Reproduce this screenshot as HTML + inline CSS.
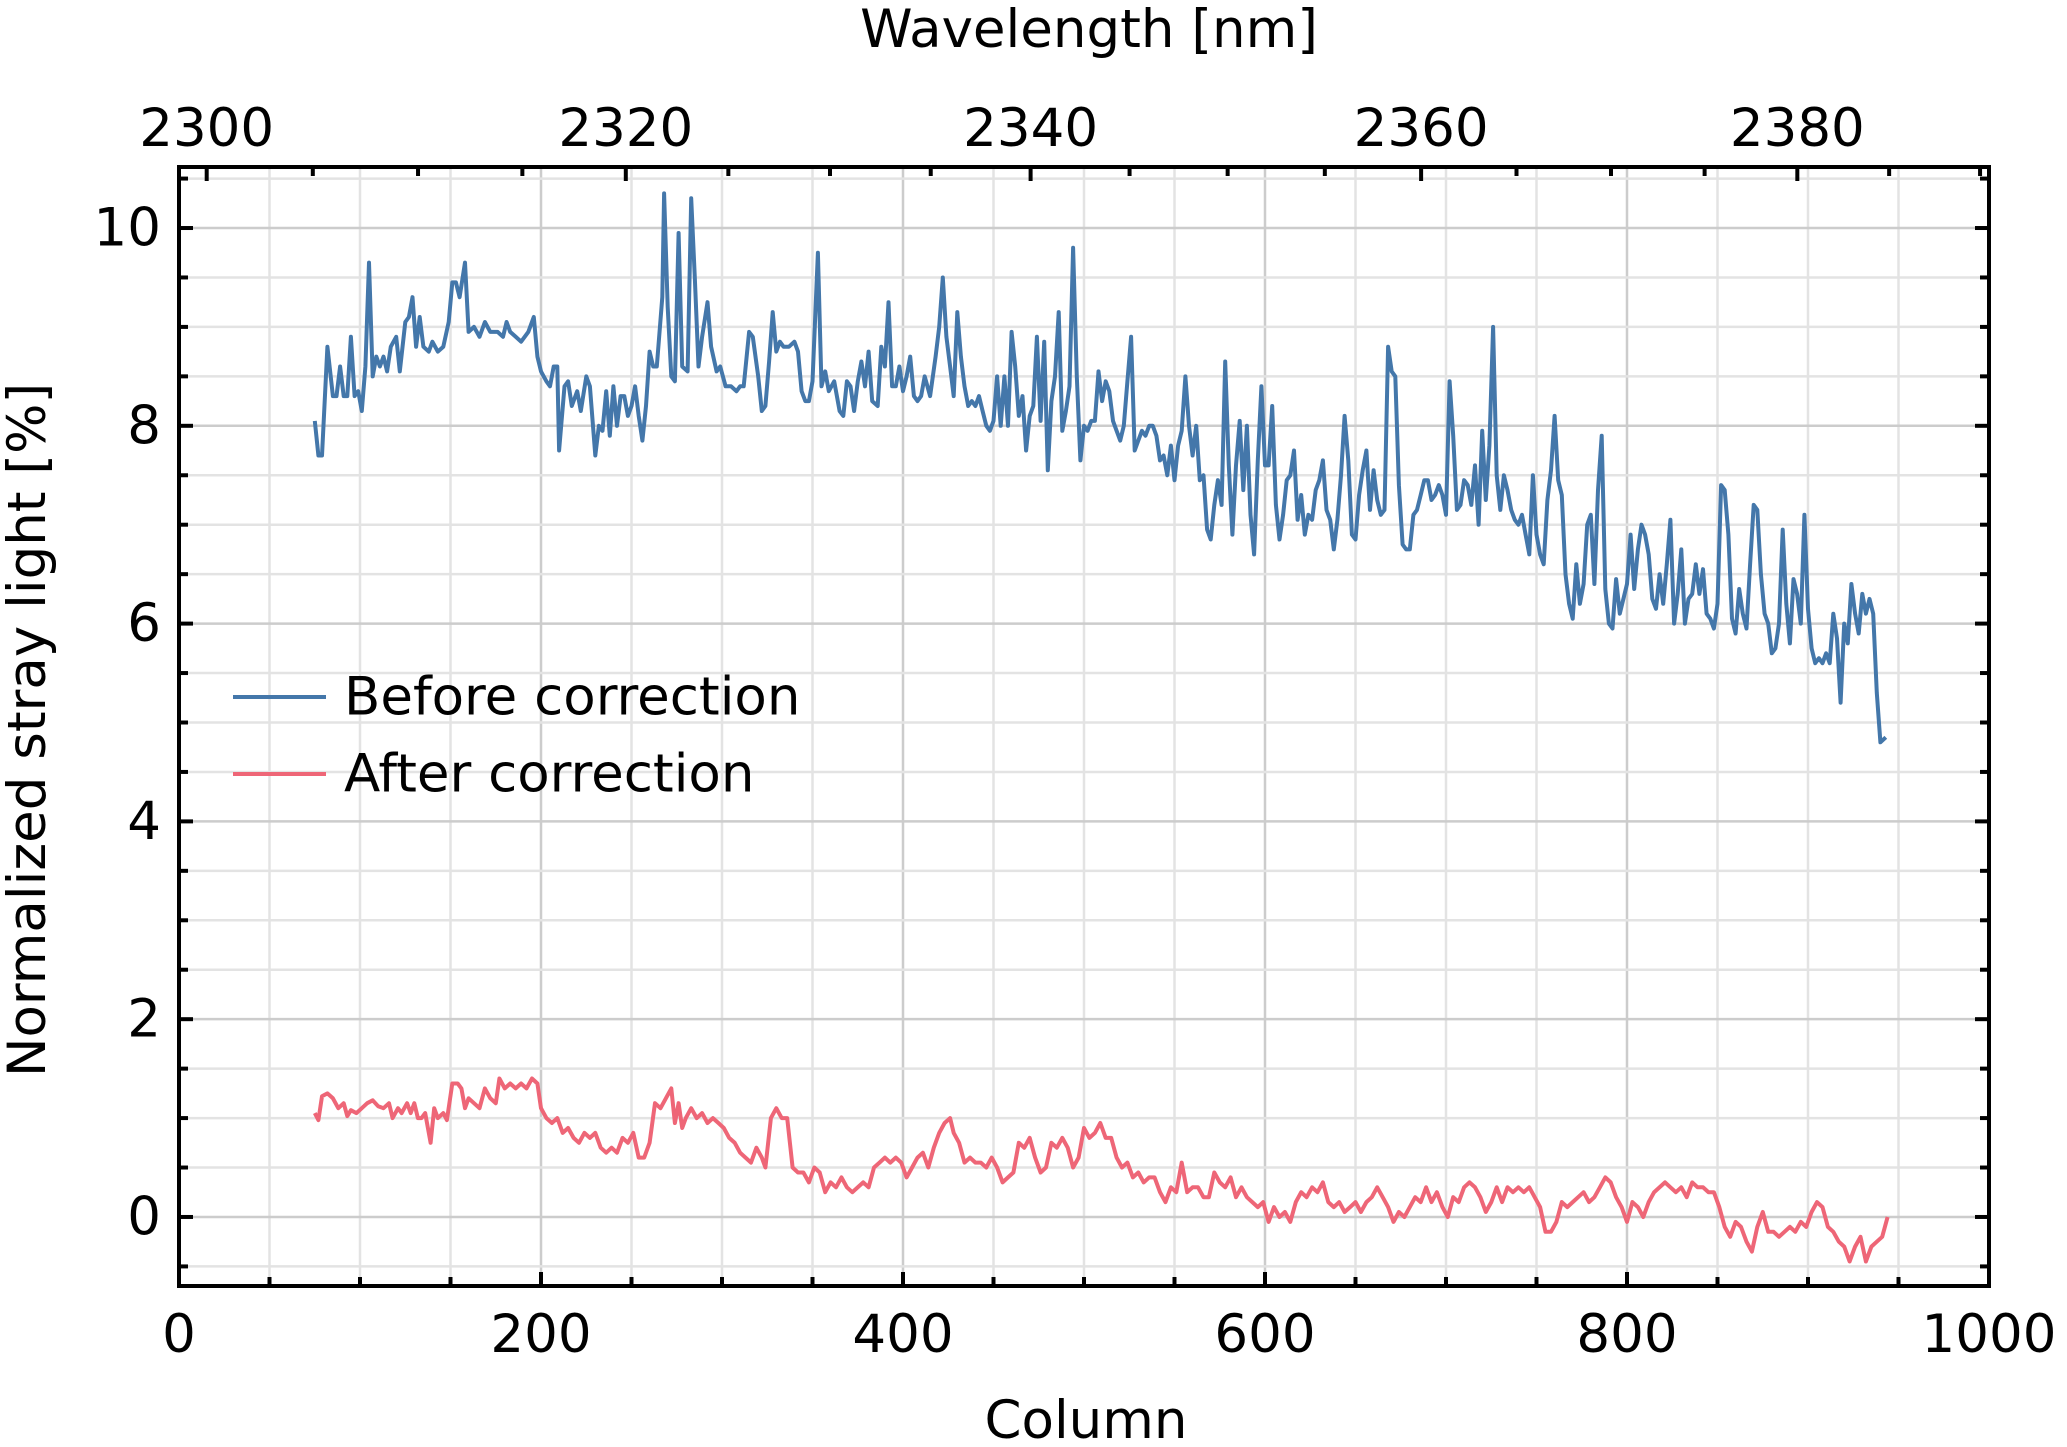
<!DOCTYPE html>
<html><head><meta charset="utf-8"><style>
html,body{margin:0;padding:0;background:#fff;}
svg{display:block;font-family:"DejaVu Sans","Liberation Sans",sans-serif;}
</style></head><body>
<svg id="chart" width="2067" height="1447" viewBox="0 0 2067 1447" xmlns="http://www.w3.org/2000/svg">
<g id="grid"></g>
<g id="series"></g>
<g id="axes"></g>
<text x="1089" y="47" font-size="53" text-anchor="middle">Wavelength [nm]</text>
<text x="1086" y="1438" font-size="53" text-anchor="middle">Column</text>
<text transform="translate(45,730) rotate(-90)" font-size="53" text-anchor="middle">Normalized stray light [%]</text>
<g>
<line x1="233" y1="697" x2="326" y2="697" stroke="#4477AA" stroke-width="4"/>
<text x="344" y="697" font-size="53" dominant-baseline="central">Before correction</text>
<line x1="233" y1="774" x2="326" y2="774" stroke="#EE6677" stroke-width="4"/>
<text x="344" y="774" font-size="53" dominant-baseline="central">After correction</text>
</g>
</svg>
<script>
const beforeCols=[75,77,79,82,85,87,89,91,93,95,97,99,101,103,105,107,109,111,113,115,117,120,122,125,127,129,131,133,135,138,140,143,146,149,151,153,155,158,160,163,166,169,172,176,179,181,183,186,189,193,196,198,200,203,205,207,209,210,213,215,217,220,222,225,227,230,232,234,236,238,240,242,244,246,248,250,252,254,256,258,260,262,264,267,268,270,272,274,276,278,281,283,285,287,289,292,294,297,299,302,305,308,310,312,315,317,320,322,324,326,328,330,332,334,337,340,342,344,346,348,350,353,355,357,359,362,365,367,369,371,373,375,377,379,381,383,386,388,390,392,394,396,398,400,402,404,406,408,410,412,415,418,420,422,424,426,428,430,432,434,436,438,440,442,444,446,448,450,452,454,456,458,460,462,464,466,468,470,472,474,476,478,480,482,484,486,488,490,492,494,496,498,500,502,504,506,508,510,512,514,516,518,520,522,524,526,528,530,532,534,536,538,540,542,544,546,548,550,552,554,556,558,560,562,564,566,568,570,572,574,576,578,580,582,584,586,588,590,592,594,596,598,600,602,604,606,608,610,612,614,616,618,620,622,624,626,628,630,632,634,636,638,640,642,644,646,648,650,652,654,656,658,660,662,664,666,668,670,672,674,676,678,680,682,684,686,688,690,692,694,696,698,700,702,704,706,708,710,712,714,716,718,720,722,724,726,728,730,732,734,736,738,740,742,744,746,748,750,752,754,756,758,760,762,764,766,768,770,772,774,776,778,780,782,784,786,788,790,792,794,796,798,800,802,804,806,808,810,812,814,816,818,820,822,824,826,828,830,832,834,836,838,840,842,844,846,848,850,852,854,856,858,860,862,864,866,868,870,872,874,876,878,880,882,884,886,888,890,892,894,896,898,900,902,904,906,908,910,912,914,916,918,920,922,924,926,928,930,932,934,936,938,940,943,946];
const beforeVals=[8.05,7.7,7.7,8.8,8.3,8.3,8.6,8.3,8.3,8.9,8.3,8.35,8.15,8.6,9.65,8.5,8.7,8.6,8.7,8.55,8.8,8.9,8.55,9.05,9.1,9.3,8.8,9.1,8.8,8.75,8.85,8.75,8.8,9.05,9.45,9.45,9.3,9.65,8.95,9.0,8.9,9.05,8.95,8.95,8.9,9.05,8.95,8.9,8.85,8.95,9.1,8.7,8.55,8.45,8.4,8.6,8.6,7.75,8.4,8.45,8.2,8.35,8.15,8.5,8.4,7.7,8.0,7.95,8.35,7.9,8.4,8.0,8.3,8.3,8.1,8.2,8.4,8.1,7.85,8.2,8.75,8.6,8.6,9.3,10.35,9.2,8.5,8.45,9.95,8.6,8.55,10.3,9.5,8.6,8.9,9.25,8.8,8.55,8.6,8.4,8.4,8.35,8.4,8.4,8.95,8.9,8.5,8.15,8.2,8.65,9.15,8.75,8.85,8.8,8.8,8.85,8.75,8.35,8.25,8.25,8.45,9.75,8.4,8.55,8.35,8.45,8.15,8.1,8.45,8.4,8.15,8.45,8.65,8.4,8.75,8.25,8.2,8.8,8.6,9.25,8.4,8.4,8.6,8.35,8.5,8.7,8.3,8.25,8.3,8.5,8.3,8.7,9.0,9.5,8.9,8.6,8.3,9.15,8.7,8.4,8.2,8.25,8.2,8.3,8.15,8.0,7.95,8.05,8.5,8.0,8.5,8.0,8.95,8.6,8.1,8.3,7.75,8.1,8.2,8.9,8.05,8.85,7.55,8.25,8.5,9.15,7.95,8.15,8.4,9.8,8.5,7.65,8.0,7.95,8.05,8.05,8.55,8.25,8.45,8.35,8.05,7.95,7.85,8.0,8.45,8.9,7.75,7.85,7.95,7.9,8.0,8.0,7.9,7.65,7.7,7.5,7.8,7.45,7.8,7.95,8.5,8.0,7.7,8.0,7.45,7.5,6.95,6.85,7.2,7.45,7.2,8.65,7.6,6.9,7.6,8.05,7.35,8.0,7.1,6.7,7.65,8.4,7.6,7.6,8.2,7.2,6.85,7.1,7.45,7.5,7.75,7.05,7.3,6.9,7.1,7.05,7.35,7.45,7.65,7.15,7.05,6.75,7.05,7.5,8.1,7.65,6.9,6.85,7.3,7.55,7.75,7.15,7.55,7.25,7.1,7.15,8.8,8.55,8.5,7.4,6.8,6.75,6.75,7.1,7.15,7.3,7.45,7.45,7.25,7.3,7.4,7.3,7.1,8.45,7.9,7.15,7.2,7.45,7.4,7.2,7.6,7.0,7.95,7.25,7.8,9.0,7.5,7.15,7.5,7.35,7.15,7.05,7.0,7.1,6.9,6.7,7.5,6.9,6.7,6.6,7.25,7.55,8.1,7.45,7.3,6.5,6.2,6.05,6.6,6.2,6.4,7.0,7.1,6.4,7.35,7.9,6.35,6.0,5.95,6.45,6.1,6.25,6.4,6.9,6.35,6.75,7.0,6.9,6.7,6.25,6.15,6.5,6.2,6.6,7.05,6.0,6.3,6.75,6.0,6.25,6.3,6.6,6.3,6.55,6.1,6.05,5.95,6.2,7.4,7.35,6.9,6.05,5.9,6.35,6.1,5.95,6.6,7.2,7.15,6.5,6.1,6.0,5.7,5.75,6.0,6.95,6.2,5.8,6.45,6.3,6.0,7.1,6.15,5.75,5.6,5.65,5.6,5.7,5.6,6.1,5.85,5.2,6.0,5.8,6.4,6.1,5.9,6.3,6.1,6.25,6.1,5.3,4.8,4.85];
const afterCols=[75,77,79,82,85,88,91,93,95,98,101,104,107,110,113,116,118,121,123,126,128,130,132,134,136,139,141,143,146,148,151,154,156,158,160,163,166,169,172,175,177,180,183,186,189,192,195,198,200,203,206,209,212,215,218,221,224,227,230,233,236,239,242,245,248,251,254,257,260,263,266,269,272,274,276,278,280,283,286,289,292,295,298,301,304,307,310,313,316,319,322,324,327,330,333,336,339,342,345,348,351,354,357,360,363,366,369,372,375,378,381,384,387,390,393,396,399,402,405,408,411,414,417,420,423,426,428,431,434,437,440,443,446,449,452,455,458,461,464,467,470,473,476,479,482,485,488,491,494,497,500,503,506,509,512,515,518,521,524,527,530,533,536,539,542,545,548,551,554,557,560,563,566,569,572,575,578,581,584,587,590,593,596,599,602,605,608,611,614,617,620,623,626,629,632,635,638,641,644,647,650,653,656,659,662,665,668,671,674,677,680,683,686,689,692,695,698,701,704,707,710,713,716,719,722,725,728,731,734,737,740,743,746,749,752,755,758,761,764,767,770,773,776,779,782,785,788,791,794,797,800,803,806,809,812,815,818,821,824,827,830,833,836,839,842,845,848,851,854,857,860,863,866,869,872,875,878,881,884,887,890,893,896,899,902,905,908,911,914,917,920,923,926,929,932,935,938,941,944];
const afterVals=[1.05,0.98,1.22,1.25,1.2,1.1,1.15,1.02,1.08,1.05,1.1,1.15,1.18,1.12,1.1,1.15,1.0,1.1,1.05,1.15,1.05,1.15,1.0,1.0,1.05,0.75,1.1,1.0,1.05,0.98,1.35,1.35,1.3,1.1,1.2,1.15,1.1,1.3,1.2,1.15,1.4,1.3,1.35,1.3,1.35,1.3,1.4,1.35,1.1,1.0,0.95,1.0,0.85,0.9,0.8,0.75,0.85,0.8,0.85,0.7,0.65,0.7,0.65,0.8,0.75,0.85,0.6,0.6,0.75,1.15,1.1,1.2,1.3,0.95,1.15,0.9,1.0,1.1,1.0,1.05,0.95,1.0,0.95,0.9,0.8,0.75,0.65,0.6,0.55,0.7,0.6,0.5,1.0,1.1,1.0,1.0,0.5,0.45,0.45,0.35,0.5,0.45,0.25,0.35,0.3,0.4,0.3,0.25,0.3,0.35,0.3,0.5,0.55,0.6,0.55,0.6,0.55,0.4,0.5,0.6,0.65,0.5,0.7,0.85,0.95,1.0,0.85,0.75,0.55,0.6,0.55,0.55,0.5,0.6,0.5,0.35,0.4,0.45,0.75,0.7,0.8,0.6,0.45,0.5,0.75,0.7,0.8,0.7,0.5,0.6,0.9,0.8,0.85,0.95,0.8,0.8,0.6,0.5,0.55,0.4,0.45,0.35,0.4,0.4,0.25,0.15,0.3,0.25,0.55,0.25,0.3,0.3,0.2,0.2,0.45,0.35,0.3,0.4,0.2,0.3,0.2,0.15,0.1,0.15,-0.05,0.1,0.0,0.05,-0.05,0.15,0.25,0.2,0.3,0.25,0.35,0.15,0.1,0.15,0.05,0.1,0.15,0.05,0.15,0.2,0.3,0.2,0.1,-0.05,0.05,0.0,0.1,0.2,0.15,0.3,0.15,0.25,0.1,0.0,0.2,0.15,0.3,0.35,0.3,0.2,0.05,0.15,0.3,0.15,0.3,0.25,0.3,0.25,0.3,0.2,0.1,-0.15,-0.15,-0.05,0.15,0.1,0.15,0.2,0.25,0.15,0.2,0.3,0.4,0.35,0.2,0.1,-0.05,0.15,0.1,0.0,0.15,0.25,0.3,0.35,0.3,0.25,0.3,0.2,0.35,0.3,0.3,0.25,0.25,0.1,-0.1,-0.2,-0.05,-0.1,-0.25,-0.35,-0.1,0.05,-0.15,-0.15,-0.2,-0.15,-0.1,-0.15,-0.05,-0.1,0.05,0.15,0.1,-0.1,-0.15,-0.25,-0.3,-0.45,-0.3,-0.2,-0.45,-0.3,-0.25,-0.2,0.0];
const xTickLabels=[0,200,400,600,800,1000];
const yTickLabels=[0,2,4,6,8,10];
const topTickLabels=[2300,2320,2340,2360,2380];

const L=179,R=1989,T=167,B=1286;
const X0=0,X1=1000,Y0=-0.698,Y1=10.617;
const xs=v=>L+(v-X0)/(X1-X0)*(R-L);
const ys=v=>B-(v-Y0)/(Y1-Y0)*(B-T);
const wl2col=w=>{const u=(w-2300)/20;return 15.3+235.5*u-3.95*u*u;};
const NS="http://www.w3.org/2000/svg";
function mk(tag,attrs,parent){const e=document.createElementNS(NS,tag);for(const k in attrs)e.setAttribute(k,attrs[k]);parent.appendChild(e);return e;}
const grid=document.getElementById('grid'),axes=document.getElementById('axes'),series=document.getElementById('series');

for(let c=0;c<=1000;c+=50){const major=c%200===0;
 const g=mk('line',{x1:xs(c),x2:xs(c),y1:T,y2:B,stroke:major?'#cccccc':'#e3e3e3','stroke-width':2.5},grid);
 
 }
for(let v=-0.5;v<=10.5;v+=0.5){const major=Math.abs(v%2)<1e-9;
 const g=mk('line',{x1:L,x2:R,y1:ys(v),y2:ys(v),stroke:major?'#cccccc':'#e3e3e3','stroke-width':2.5},grid);
 
 }

function path(cols,vals,color,name){let d='';for(let i=0;i<cols.length;i++)d+=(i?'L':'M')+xs(cols[i]).toFixed(1)+' '+ys(vals[i]).toFixed(1);
 const p=mk('path',{d:d,fill:'none',stroke:color,'stroke-width':4,'stroke-linejoin':'round'},series);
 
 }
path(beforeCols,beforeVals,'#4477AA','before-correction-line');
path(afterCols,afterVals,'#EE6677','after-correction-line');

const tk=(x1,y1,x2,y2)=>{const t=mk('line',{x1,y1,x2,y2,stroke:'#000','stroke-width':4},axes);
 
 };
for(let c=0;c<=1000;c+=50){const len=c%200===0?14:9;tk(xs(c),B,xs(c),B-len);}
for(let v=-0.5;v<=10.5;v+=0.5){const len=Math.abs(v%2)<1e-9?14:9;tk(L,ys(v),L+len,ys(v));tk(R,ys(v),R-len,ys(v));}
for(let w=2300;w<=2390;w+=5){const c=wl2col(w);if(c>1000)break;const len=w%20===0?14:9;tk(xs(c),T,xs(c),T+len);}
const frame=mk('rect',{x:L,y:T,width:R-L,height:B-T,fill:'none',stroke:'#000','stroke-width':4},axes);



xTickLabels.forEach(v=>{const t=mk('text',{x:xs(v),y:1352,'font-size':53,'text-anchor':'middle'},axes);t.textContent=v;
 
 });
yTickLabels.forEach(v=>{const t=mk('text',{x:161,y:ys(v),'font-size':53,'text-anchor':'end','dominant-baseline':'central'},axes);t.textContent=v;
 
 });
topTickLabels.forEach(v=>{const t=mk('text',{x:xs(wl2col(v)),y:146,'font-size':53,'text-anchor':'middle'},axes);t.textContent=v;
 
 });
</script>
</body></html>
